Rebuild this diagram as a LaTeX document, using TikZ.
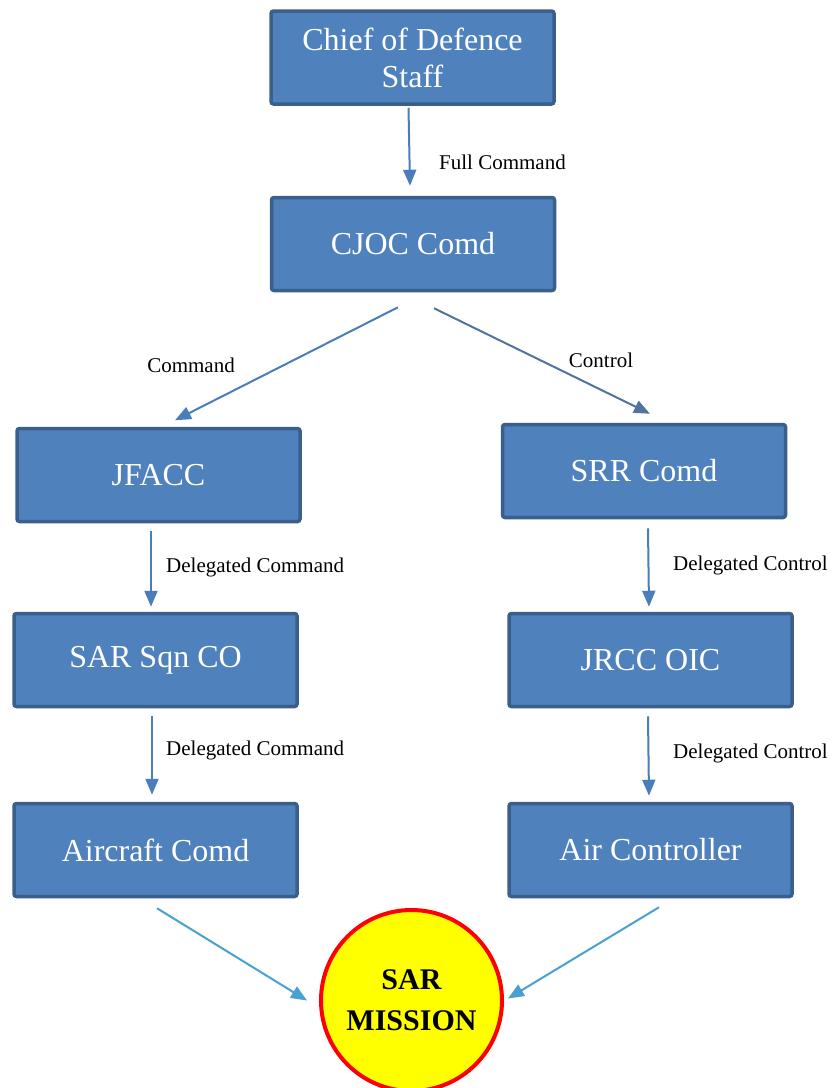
\documentclass[tikz,border=0pt]{standalone}
\usepackage{fontspec}
\setmainfont{Liberation Serif}
\usetikzlibrary{arrows.meta,calc}
\definecolor{boxfill}{HTML}{4F81BD}
\definecolor{boxline}{HTML}{3A5F8B}
\definecolor{arrblue}{HTML}{4A7EBB}
\definecolor{arrgray}{HTML}{51749E}
\definecolor{arrlight}{HTML}{4AA0CF}
\definecolor{misred}{HTML}{FF0000}
\definecolor{misyellow}{HTML}{FFFF00}
\tikzset{
  orgbox/.style={draw=boxline, fill=boxfill, line width=3.5pt, rounded corners=2.5pt,
    minimum width=283pt, minimum height=93pt, text=white, align=center,
    font=\fontsize{32}{37}\selectfont, inner sep=0pt},
  missionnode/.style={circle, draw=misred, fill=misyellow, line width=4pt,
    minimum size=181pt, inner sep=0pt, align=center, font=\bfseries\fontsize{30}{41}\selectfont},
  linkarrow/.style={draw=arrblue, line width=2pt, -{Triangle[length=16pt,width=13pt]}},
  linklabel/.style={font=\fontsize{21}{23}\selectfont, inner sep=0pt, text=black}
}
\begin{document}
\begin{tikzpicture}[x=1pt,y=-1pt]
\useasboundingbox[fill=white] (0,0) rectangle (831,1088);
\node[orgbox] (chief) at (412.5,57.5) {Chief of Defence\\Staff};
\node[orgbox] (cjoc) at (413,244) {CJOC Comd};
\node[orgbox] (jfacc) at (158.5,475) {JFACC};
\node[orgbox] (srr) at (644,471) {SRR Comd};
\node[orgbox] (sqn) at (155.5,660) {SAR Sqn CO};
\node[orgbox] (jrcc) at (650.5,660) {JRCC OIC};
\node[orgbox] (acft) at (155.5,850) {Aircraft Comd};
\node[orgbox] (airc) at (650.5,850) {Air Controller};
\node[missionnode] (mission) at (411.5,1000.5) {SAR\\MISSION};

\draw[linkarrow] ($(chief.south)+(-4,2)$) -- ($(cjoc.north)+(-3,-10)$);
\draw[linkarrow] ($(cjoc.south)+(-15,15)$) -- ($(jfacc.north)+(16.5,-6.5)$);
\draw[linkarrow,draw=arrgray] ($(cjoc.south)+(21,16)$) -- ($(srr.north)+(6,-9)$);
\draw[linkarrow] ($(jfacc.south)+(-7.5,7.5)$) -- ($(sqn.north)+(-4.5,-5)$);
\draw[linkarrow] ($(sqn.south)+(-3.5,8)$) -- ($(acft.north)+(-3.5,-7)$);
\draw[linkarrow] ($(srr.south)+(4,9)$) -- ($(jrcc.north)+(-1.5,-5)$);
\draw[linkarrow] ($(jrcc.south)+(-2.5,8)$) -- ($(airc.north)+(-1.5,-6)$);
\draw[linkarrow,draw=arrlight] ($(acft.south)+(1.5,10)$) -- ($(mission.west)+(-12,0)$);
\draw[linkarrow,draw=arrlight] ($(airc.south)+(8.5,9)$) -- ($(mission.east)+(4,-2)$);

\node[linklabel,anchor=west] (lfull) at (439,162) {Full Command};
\node[linklabel] (lcmd) at (191,365) {Command};
\node[linklabel] (lctl) at (601,360) {Control};
\node[linklabel,anchor=west] (ldc1) at (166,567) {Delegated Command};
\node[linklabel,anchor=west] (ldc2) at (166,750) {Delegated Command};
\node[linklabel,anchor=west] (ldt1) at (673,565) {Delegated Control};
\node[linklabel,anchor=west] (ldt2) at (673,753) {Delegated Control};
\end{tikzpicture}
\end{document}
